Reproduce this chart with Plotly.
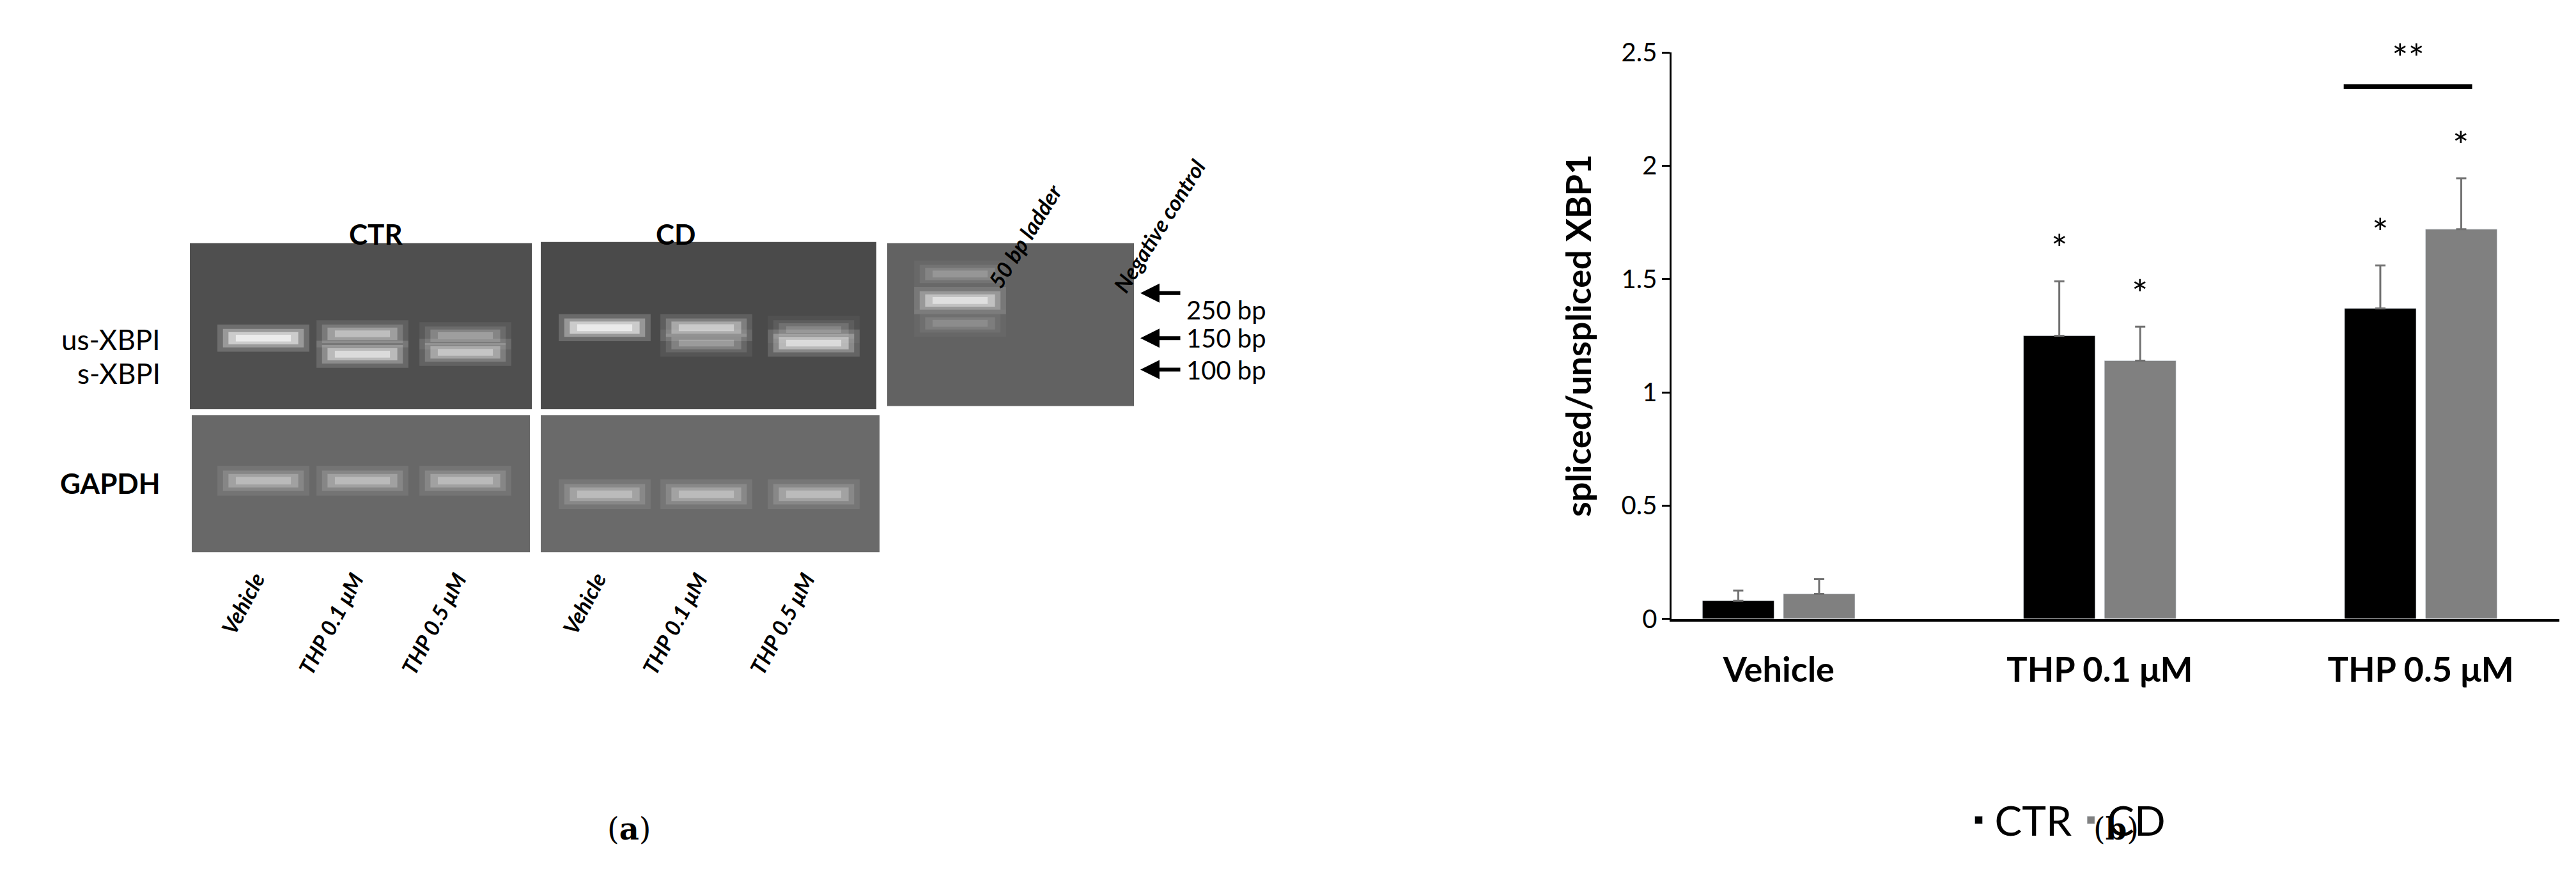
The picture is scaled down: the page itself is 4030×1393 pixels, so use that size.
import plotly.graph_objects as go

W, H = 4030, 1393
FONT = "Lato"

# panel (b) data
groups = ["Vehicle", "THP 0.1 \u03bcM", "THP 0.5 \u03bcM"]
ctr_vals = [0.08, 1.25, 1.37]
ctr_err = [0.045, 0.24, 0.19]
cd_vals = [0.11, 1.14, 1.72]
cd_err = [0.065, 0.15, 0.225]
ctr_stars = ["", "*", "*"]
cd_stars = ["", "*", "*"]
ytick_vals = [0, 0.5, 1, 1.5, 2, 2.5]
ytick_text = ["0", "0.5", "1", "1.5", "2", "2.5"]

# panel (a) labels
lane_labels = ["Vehicle", "THP 0.1 \u03bcM", "THP 0.5 \u03bcM"]
marker_labels = ["250 bp", "150 bp", "100 bp"]


def px(x):
    return x / W


def py(y):
    return 1 - y / H


fig = go.Figure()
fig.add_bar(x=groups, y=ctr_vals, name="CTR", marker_color="black",
            error_y=dict(type="data", array=ctr_err, arrayminus=[0, 0, 0],
                         color="#707070", thickness=3, width=8))
fig.add_bar(x=groups, y=cd_vals, name="CD", marker_color="#808080",
            error_y=dict(type="data", array=cd_err, arrayminus=[0, 0, 0],
                         color="#707070", thickness=3, width=8))

annotations = []
shapes = []
off = 0.126
for i in range(3):
    if ctr_stars[i]:
        annotations.append(dict(x=i - off, y=ctr_vals[i] + ctr_err[i] + 0.04, xref="x", yref="y",
                                text=ctr_stars[i], showarrow=False, yanchor="bottom",
                                font=dict(size=60, color="black", family=FONT)))
    if cd_stars[i]:
        annotations.append(dict(x=i + off, y=cd_vals[i] + cd_err[i] + 0.04, xref="x", yref="y",
                                text=cd_stars[i], showarrow=False, yanchor="bottom",
                                font=dict(size=60, color="black", family=FONT)))
shapes.append(dict(type="line", xref="x", yref="y", x0=1.76, x1=2.16, y0=2.35, y1=2.35,
                   line=dict(color="black", width=7)))
annotations.append(dict(x=1.96, y=2.37, xref="x", yref="y", text="**", showarrow=False,
                        yanchor="bottom", font=dict(size=60, color="black", family=FONT)))

# ---- panel (a): gel images drawn as shapes ----
gel_boxes = [
    (289, 360, 824, 629, "#4f4f4f"),
    (838, 358, 1363, 629, "#4a4a4a"),
    (1380, 360, 1766, 624, "#626262"),
    (292, 639, 821, 861, "#686868"),
    (838, 639, 1368, 861, "#6a6a6a"),
]
for x0, y0, x1, y1, c in gel_boxes:
    shapes.append(dict(type="rect", xref="paper", yref="paper", x0=px(x0), x1=px(x1),
                       y0=py(y1), y1=py(y0), fillcolor=c, line=dict(width=0), layer="below"))


def band(xc, yc, w, h, strength):
    for sx, sy, op in [(1.25, 2.2, 0.18), (1.1, 1.5, 0.3), (0.95, 1.0, 0.5), (0.75, 0.55, 0.6)]:
        shapes.append(dict(type="rect", xref="paper", yref="paper",
                           x0=px(xc - w * sx / 2), x1=px(xc + w * sx / 2),
                           y0=py(yc + h * sy / 2), y1=py(yc - h * sy / 2),
                           fillcolor="white", opacity=op * strength, line=dict(width=0)))


# us / s bands: (x, y, strength)
for x, y, s in [(404, 514, 1.0), (559, 507, 0.55), (559, 540, 0.8), (720, 510, 0.35), (720, 537, 0.6),
                (938, 497, 1.0), (1097, 497, 0.65), (1097, 522, 0.35), (1265, 522, 0.8), (1265, 500, 0.25),
                (1494, 453, 0.8), (1494, 410, 0.25), (1494, 490, 0.2)]:
    band(x, y, 115, 20, s)
for x, y in [(404, 745), (559, 745), (720, 745), (938, 767), (1097, 767), (1265, 767)]:
    band(x, y, 115, 22, 0.45)

# arrows to size markers
for lab, yy in zip(marker_labels, [441, 514, 565]):
    annotations.append(dict(x=px(1776), y=py(yy), ax=64, ay=0, xref="paper", yref="paper",
                            text="", showarrow=True, arrowhead=2,
                            arrowsize=1, arrowwidth=6, arrowcolor="black"))
    annotations.append(dict(x=px(1846), y=py(yy), xref="paper", yref="paper", text=lab,
                            showarrow=False, xanchor="left", font=dict(size=40, family=FONT, color="black")))

txt = dict(size=44, family=FONT, color="black")
annotations += [
    dict(x=px(536), y=py(316), text="<b>CTR</b>", font=txt),
    dict(x=px(1016), y=py(316), text="<b>CD</b>", font=txt),
    dict(x=px(245), y=py(516), text="us-XBPI", xanchor="right", font=txt),
    dict(x=px(245), y=py(571), text="s-XBPI", xanchor="right", font=txt),
    dict(x=px(245), y=py(749), text="<b>GAPDH</b>", xanchor="right", font=txt),
    dict(x=px(1595), y=py(254), text="<b><i>50 bp ladder</i></b>", textangle=-58,
         font=dict(size=34, family=FONT, color="black")),
    dict(x=px(1805), y=py(214), text="<b><i>Negative control</i></b>", textangle=-58,
         font=dict(size=34, family=FONT, color="black")),
    dict(x=px(940), y=py(1340), text="(<b>a</b>)", font=dict(size=48, family="DejaVu Serif", color="black")),
    dict(x=px(3340), y=py(1340), text="(<b>b</b>)", font=dict(size=48, family="DejaVu Serif", color="black")),
]
for xs in ([404, 559, 720], [938, 1097, 1265]):
    for x, lab in zip(xs, lane_labels):
        annotations.append(dict(x=px(x + 12), y=py(884), text="<b><i>" + lab + "</i></b>",
                                textangle=-62, xanchor="right", yanchor="top",
                                font=dict(size=34, family=FONT, color="black")))
for a in annotations:
    a.setdefault("xref", "paper")
    a.setdefault("yref", "paper")
    a.setdefault("showarrow", False)

fig.update_layout(
    width=W, height=H, margin=dict(l=0, r=0, t=0, b=0),
    paper_bgcolor="white", plot_bgcolor="white",
    font=dict(family=FONT, color="black"),
    barmode="group", bargap=0.496, bargroupgap=0.115,
    xaxis=dict(domain=[0.647, 0.9916], range=[-0.333, 2.432], showline=True, linecolor="black",
               linewidth=4, ticks="", tickfont=dict(size=54, family=FONT), ticklabelstandoff=30),
    yaxis=dict(domain=[0.3044, 0.9634], range=[0, 2.5], tickvals=ytick_vals, ticktext=ytick_text,
               showline=True, linecolor="black", linewidth=3, ticks="outside", ticklen=12,
               tickwidth=3, tickcolor="black", showgrid=False, zeroline=False,
               tickfont=dict(size=40, family=FONT),
               title=dict(text="<b>spliced/unspliced XBP1</b>", font=dict(size=54, family=FONT), standoff=30)),
    legend=dict(orientation="h", x=0.80, y=0.07, xanchor="center", yanchor="middle",
                font=dict(size=64, family=FONT), itemwidth=40),
    shapes=shapes, annotations=annotations,
)
fig.update_xaxes(tickprefix="<b>", ticksuffix="</b>")
fig.write_html("out.html")
